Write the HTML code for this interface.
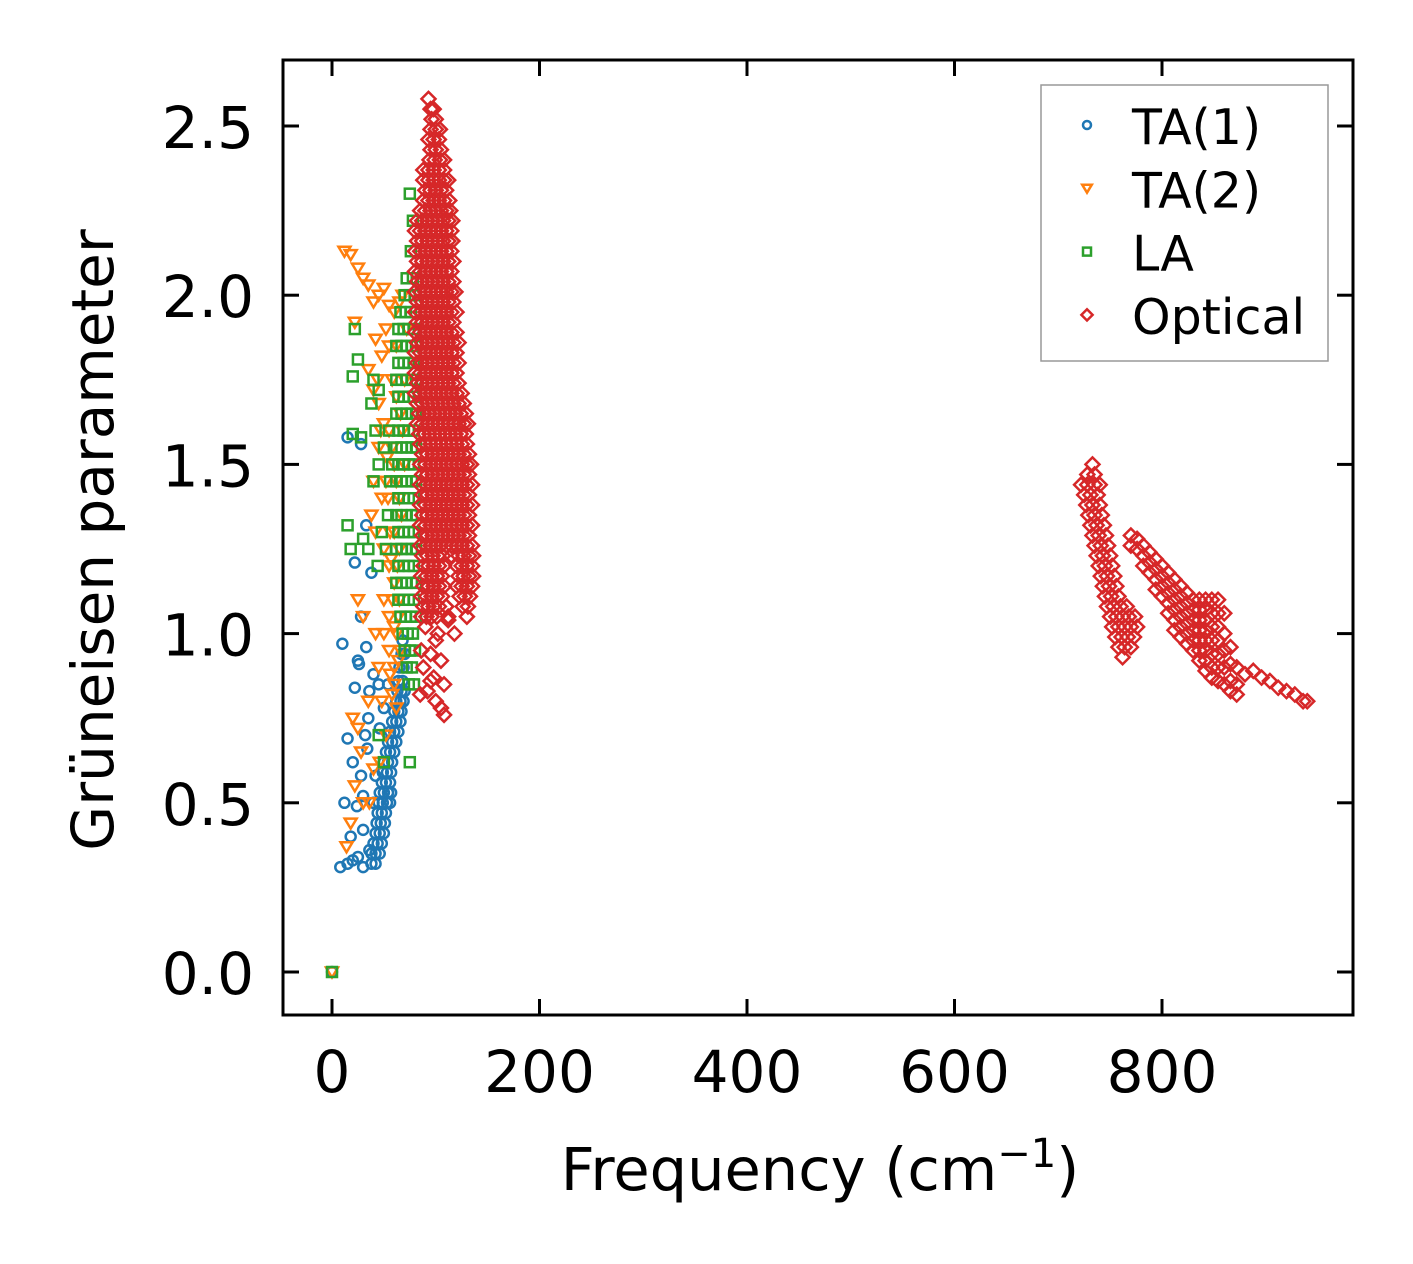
<!DOCTYPE html>
<html><head><meta charset="utf-8"><style>
body{margin:0;background:#fff}
svg{display:block;font-family:"DejaVu Sans","Liberation Sans",sans-serif}
</style></head><body>
<svg id="chart" width="1413" height="1264" viewBox="0 0 1413 1264" xmlns="http://www.w3.org/2000/svg">
<rect width="1413" height="1264" fill="#fff"/>
<g id="marks"></g>
<g id="axes"></g>
<g id="legend"></g>
</svg>
<script>
const xTicks=[0,200,400,600,800];
const yTicks=[0.0,0.5,1.0,1.5,2.0,2.5];
const yTickLabels=["0.0","0.5","1.0","1.5","2.0","2.5"];

// TA(1): scattered points [freq, gamma]
const ta1Pts=[[0,0],[8,0.31],[15,0.32],[20,0.33],[25,0.34],[30,0.31],[12,0.5],[15,0.69],[22,0.84],[25,0.92],[28,0.58],[30,0.52],[32,0.7],[35,0.75],[33,0.96],[38,1.18],[28,1.05],[22,1.21],[15,1.58],[28,1.56],[33,1.32],[10,0.97],[18,0.4],[24,0.49],[20,0.62],[36,0.83],[40,0.88],[45,0.85],[26,0.91],[34,0.66],[30,0.42],[36,0.36],[40,0.5],[42,0.58],[46,0.72],[50,0.78],[54,0.85]];
// TA(1) dense band rows: [gamma, [freqs]]
const ta1Rows=[[0.32,[38,42]],[0.35,[38,42,46]],[0.38,[40,44,48]],[0.41,[42,46,50]],[0.44,[43,47,51]],[0.47,[44,48,52]],[0.50,[45,49,53,56]],[0.53,[46,50,54,57]],[0.56,[48,52,56]],[0.59,[49,53,57]],[0.62,[50,54,58]],[0.65,[52,56,60]],[0.68,[54,58,62]],[0.71,[56,60,64]],[0.74,[58,62,66]],[0.77,[60,64,67]],[0.80,[62,66,69]],[0.83,[63,67,70]],[0.86,[64,68]],[0.90,[65,69]],[0.94,[67,70]],[0.98,[68]]];

const ta2Pts=[[0,0],[12,2.13],[18,2.12],[25,2.08],[30,2.05],[35,2.03],[40,1.98],[45,2.0],[50,2.02],[55,1.97],[60,1.95],[65,1.98],[68,2.0],[22,1.92],[42,1.87],[48,1.82],[52,1.9],[55,1.85],[35,1.78],[40,1.72],[45,1.68],[50,1.62],[55,1.6],[58,1.55],[60,1.5],[62,1.45],[45,1.55],[40,1.45],[38,1.35],[42,1.3],[50,1.25],[55,1.2],[60,1.15],[65,1.1],[25,1.1],[30,1.05],[42,1.0],[50,1.0],[55,0.95],[60,0.9],[20,0.75],[25,0.72],[28,0.65],[22,0.55],[18,0.44],[14,0.37],[35,0.8],[45,0.9],[50,1.1],[55,1.05],[60,1.3],[65,1.4],[68,1.6],[70,1.75],[72,1.9],[62,1.7],[58,1.75],[48,1.4],[52,1.45],[65,1.25],[62,1.0],[64,1.05],[66,0.95],[58,1.1],[56,1.3],[54,1.4],[63,1.2],[67,1.35],[70,1.5],[48,0.8],[40,0.6],[36,0.5],[60,0.85],[62,0.78],[58,0.82],[56,0.88],[64,0.92],[60,1.02],[57,1.22],[53,1.52],[47,1.6],[44,1.75],[62,1.85],[66,1.65],[52,0.7],[46,0.62],[30,0.5]];

const laPts=[[0,0],[75,2.3],[78,2.22],[22,1.9],[25,1.81],[20,1.76],[40,1.75],[45,1.72],[38,1.68],[42,1.6],[20,1.59],[28,1.58],[15,1.32],[18,1.25],[30,1.28],[35,1.25],[40,1.45],[45,1.5],[50,1.55],[55,1.6],[58,1.5],[56,1.45],[54,1.35],[52,1.25],[50,0.62],[45,0.7],[75,0.62],[48,1.3],[44,1.2]];
// LA dense band rows: [gamma, [freqs]]
const laRows=[[2.13,[76]],[2.05,[72,78]],[2.0,[70,75,80]],[1.95,[66,71,76,81]],[1.9,[64,69,74,79]],[1.85,[62,67,72,77,81]],[1.8,[64,69,74,79]],[1.75,[62,67,72,77,81]],[1.7,[64,69,74,79]],[1.65,[62,67,72,77,81]],[1.6,[64,69,74,79]],[1.55,[62,67,72,77,81]],[1.5,[64,69,74,79]],[1.45,[62,67,72,77,81]],[1.4,[64,69,74,79]],[1.35,[62,67,72,77,81]],[1.3,[64,69,74,79]],[1.25,[62,67,72,77,81]],[1.2,[64,69,74,79]],[1.15,[62,67,72,77,81]],[1.1,[64,69,74,79]],[1.05,[66,71,76,81]],[1.0,[68,73,78]],[0.95,[70,75,80]],[0.9,[72,77]],[0.85,[74,79]]];

// Optical low-frequency cloud rows: [gamma, [freqs]]
const optLowRows=[[2.58,[93]],[2.55,[95,98]],[2.52,[96,100]],[2.49,[95,100,104]],[2.46,[93,98,103]],[2.43,[95,100,105]],[2.40,[94,99,104,108]],[2.37,[88,93,98,103,108]],[2.34,[88,93,98,103,108,112]],[2.31,[90,95,100,105,110]],[2.28,[88,93,98,103,108,113]],[2.25,[85,90,95,100,105,110,114]],[2.22,[82,87,92,97,102,107,112,116]],[2.19,[80,85,90,95,100,105,110,115]],[2.16,[82,87,92,97,102,107,112,116]],[2.13,[80,85,90,95,100,105,110,115]],[2.10,[82,87,92,97,102,107,112,117]],[2.07,[80,85,90,95,100,105,110,115]],[2.04,[82,87,92,97,102,107,112,117]],[2.01,[80,85,90,95,100,105,110,115,119]],[1.98,[82,87,92,97,102,107,112,117]],[1.95,[80,85,90,95,100,105,110,115,120]],[1.92,[82,87,92,97,102,107,112,117]],[1.89,[80,85,90,95,100,105,110,115,120]],[1.86,[82,87,92,97,102,107,112,117,122]],[1.83,[80,85,90,95,100,105,110,115,120]],[1.80,[82,87,92,97,102,107,112,117,122]],[1.77,[80,85,90,95,100,105,110,115,120]],[1.74,[82,87,92,97,102,107,112,117,122]],[1.71,[80,85,90,95,100,105,110,115,120,125]],[1.68,[82,87,92,97,102,107,112,117,122,127]],[1.65,[84,89,94,99,104,109,114,119,124,129]],[1.62,[82,87,92,97,102,107,112,117,122,127,131]],[1.59,[84,89,94,99,104,109,114,119,124,129]],[1.56,[85,90,95,100,105,110,115,120,125,130]],[1.53,[87,92,97,102,107,112,117,122,127,132]],[1.50,[85,90,95,100,105,110,115,120,125,130,134]],[1.47,[87,92,97,102,107,112,117,122,127,132]],[1.44,[85,90,95,100,105,110,115,120,125,130,135]],[1.41,[87,92,97,102,107,112,117,122,127,132]],[1.38,[85,90,95,100,105,110,115,120,125,130,135]],[1.35,[87,92,97,102,107,112,117,122,127,132]],[1.32,[85,90,95,100,105,110,115,120,125,130,135]],[1.29,[87,92,97,102,107,112,117,122,127,132]],[1.26,[85,90,95,100,105,110,115,120,125,130,135]],[1.23,[87,92,97,102,107,115,122,127,132,136]],[1.20,[88,93,98,103,108,120,125,130,135]],[1.17,[86,91,96,101,106,122,127,132,136]],[1.14,[88,93,98,103,108,120,125,130,135]],[1.11,[86,91,96,101,106,123,128,133]],[1.08,[88,93,98,103,110,126,131]],[1.05,[86,91,96,101,112,130]]];
const optLowPts=[[90,1.02],[100,0.98],[95,0.94],[105,0.92],[88,0.9],[98,0.87],[108,0.85],[92,0.83],[100,0.8],[105,0.78],[108,0.76],[85,0.82],[95,0.86],[110,1.08],[112,1.04],[118,1.0],[86,0.95],[102,1.0]];
// Optical high-frequency left branch rows: [gamma, [freqs]]
const optHighRows=[[1.50,[733]],[1.47,[728,735]],[1.44,[722,728,735,740]],[1.41,[725,731,738]],[1.38,[727,733,740]],[1.35,[729,735,742]],[1.32,[731,737,744]],[1.29,[733,739,746]],[1.26,[735,741,748]],[1.23,[737,743,750]],[1.20,[739,745,752]],[1.17,[741,747,754]],[1.14,[743,749,756]],[1.11,[745,751,758]],[1.08,[747,753,760,766]],[1.05,[750,756,762,768,774]],[1.02,[752,758,764,770,776]],[0.99,[755,761,767,773]],[0.96,[758,764,770]],[0.93,[762]]];
// Optical high-frequency right branch columns: [freq, [gammas]]
const optHighCols=[[770,[1.29,1.26]],[776,[1.28,1.25]],[782,[1.26,1.23,1.2]],[788,[1.24,1.21,1.18]],[794,[1.22,1.19,1.16,1.13]],[800,[1.2,1.17,1.14,1.11]],[806,[1.18,1.15,1.12,1.09,1.06]],[812,[1.16,1.13,1.1,1.07,1.04,1.01]],[818,[1.14,1.11,1.08,1.05,1.02,0.99]],[824,[1.12,1.09,1.06,1.03,1.0,0.97]],[830,[1.1,1.07,1.04,1.01,0.98,0.95]],[836,[1.1,1.07,1.04,1.01,0.98,0.95,0.92]],[842,[1.1,1.07,1.04,1.01,0.98,0.95,0.92,0.89]],[848,[1.1,1.06,1.02,0.98,0.94,0.9,0.87]],[854,[1.1,1.06,1.02,0.98,0.94,0.9,0.86]],[860,[1.06,1.0,0.95,0.9,0.85]],[866,[0.96,0.91,0.86,0.83]],[872,[0.9,0.85,0.82]],[880,[0.88]],[888,[0.89]],[896,[0.87]],[904,[0.86]],[912,[0.84]],[920,[0.83]],[928,[0.82]],[936,[0.8]],[940,[0.8]]];

const X=v=>332+v*1.0375, Y=v=>972-v*338.4;
const NS="http://www.w3.org/2000/svg";
const marks=document.getElementById('marks');
function mk(tag,attrs,parent){const e=document.createElementNS(NS,tag);for(const k in attrs)e.setAttribute(k,attrs[k]);parent.appendChild(e);return e;}
function marker(kind,cx,cy,color,parent,s){
  s=s||1;let e;
  if(kind==='c') e=mk('circle',{cx:cx,cy:cy,r:5*s},parent);
  else if(kind==='t') e=mk('polygon',{points:`${cx-6*s},${cy-4.5*s} ${cx+6*s},${cy-4.5*s} ${cx},${cy+5.5*s}`},parent);
  else if(kind==='s') e=mk('rect',{x:cx-5*s,y:cy-5*s,width:10*s,height:10*s},parent);
  else e=mk('polygon',{points:`${cx},${cy-7*s} ${cx+7*s},${cy} ${cx},${cy+7*s} ${cx-7*s},${cy}`},parent);
  e.setAttribute('fill','none');e.setAttribute('stroke',color);e.setAttribute('stroke-width','2.5');
  return e;
}
const fromRows=rows=>rows.flatMap(([g,fs])=>fs.map(f=>[f,g]));
const fromCols=cols=>cols.flatMap(([f,gs])=>gs.map(g=>[f,g]));
const ta1=ta1Pts.concat(fromRows(ta1Rows));
const la=laPts.concat(fromRows(laRows));
const opt=fromRows(optLowRows).concat(optLowPts,fromRows(optHighRows),fromCols(optHighCols));
const series=[[ta1,'c','#1f77b4','ta1'],[ta2Pts,'t','#ff7f0e','ta2'],[la,'s','#2ca02c','la'],[opt,'d','#d62728','optical']];
series.forEach(([d,k,c,n])=>{
  const g=mk('g',{},marks);
  
  
  d.forEach(p=>{const m=marker(k,X(p[0]),Y(p[1]),c,g);
    
    });
});
const ax=document.getElementById('axes');
const fr=mk('rect',{x:283,y:60,width:1070,height:955,fill:'none',stroke:'#000','stroke-width':3},ax);


xTicks.forEach(t=>{const x=X(t);
  mk('line',{x1:x,x2:x,y1:1015,y2:999,stroke:'#000','stroke-width':3},ax);
  mk('line',{x1:x,x2:x,y1:60,y2:76,stroke:'#000','stroke-width':3},ax);
  const tx=mk('text',{x:x,y:1092,'font-size':58,'text-anchor':'middle'},ax);tx.textContent=String(t);
  
  });
yTicks.forEach((t,i)=>{const y=Y(t);
  mk('line',{x1:283,x2:299,y1:y,y2:y,stroke:'#000','stroke-width':3},ax);
  mk('line',{x1:1353,x2:1337,y1:y,y2:y,stroke:'#000','stroke-width':3},ax);
  const tx=mk('text',{x:254,y:y+22,'font-size':58,'text-anchor':'end'},ax);tx.textContent=yTickLabels[i];
  
  });
const xt=mk('text',{x:820,y:1190,'font-size':59,'text-anchor':'middle'},ax);
xt.innerHTML='Frequency (cm<tspan dy="-23" font-size="40">−1</tspan><tspan dy="23">)</tspan>';


const yt=mk('text',{x:0,y:0,'font-size':58,'text-anchor':'middle',transform:'translate(113,540) rotate(-90)'},ax);
yt.textContent='Grüneisen parameter';


const lg=document.getElementById('legend');
mk('rect',{x:1041,y:85,width:287,height:276,fill:'#fff',stroke:'#999','stroke-width':1.5},lg);
const labels=['TA(1)','TA(2)','LA','Optical'];
series.forEach(([d,k,c,n],i)=>{const y=125+i*63.3;
  const g=mk('g',{},lg);
  
  
  marker(k,1087,y,c,g,0.8);
  const t=mk('text',{x:1132,y:y+19,'font-size':49},g);t.textContent=labels[i];});
</script>
</body></html>
